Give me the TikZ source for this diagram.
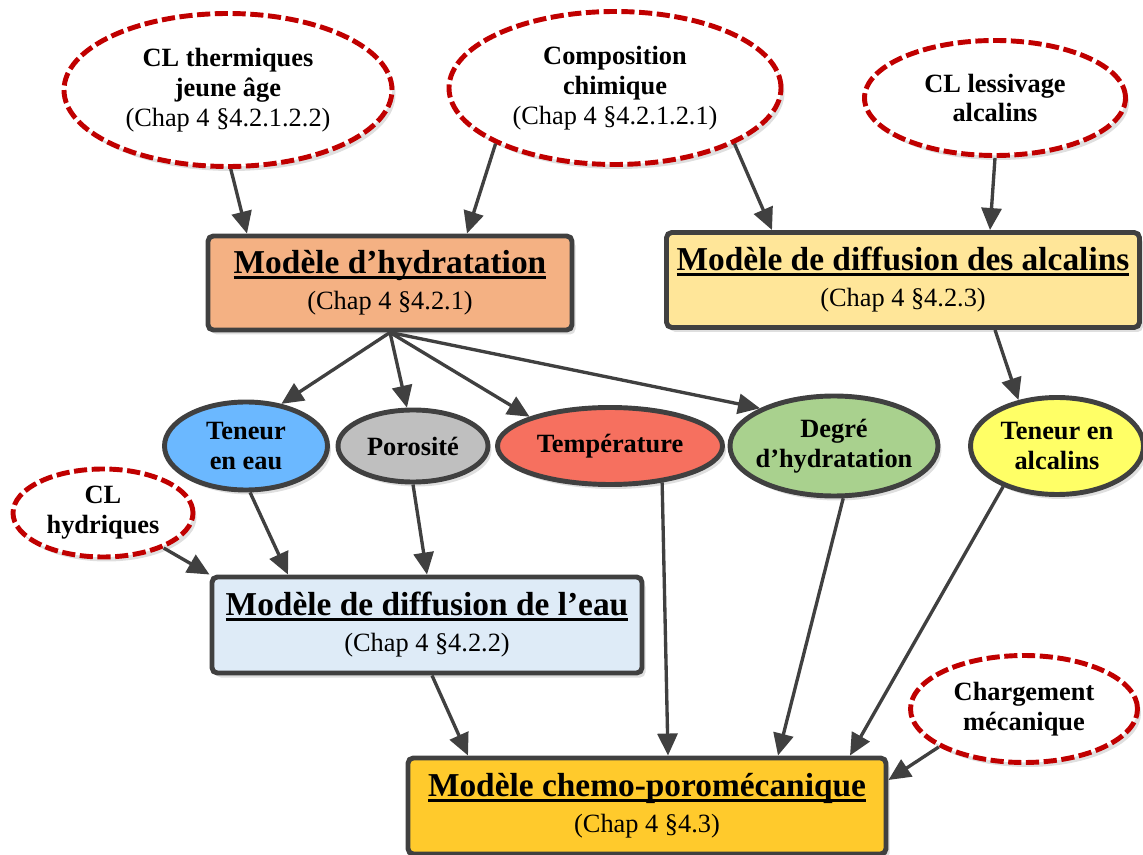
\documentclass[tikz,border=0pt]{standalone}
\usepackage{fontspec}
\setmainfont{Liberation Serif}
\usetikzlibrary{arrows.meta, positioning, shapes.geometric, shadows}

\newcommand{\souligne}[1]{\setbox0=\hbox{#1}\rlap{\copy0}\rule[-3pt]{\wd0}{1.6pt}}

\definecolor{trait}{HTML}{404040}
\definecolor{rouge}{HTML}{C00000}
\definecolor{orangeclair}{HTML}{F4B183}
\definecolor{jauneclair}{HTML}{FFE699}
\definecolor{bleuclair}{HTML}{DEEBF7}
\definecolor{jaunefonce}{HTML}{FFCA2C}
\definecolor{bleu}{HTML}{6BB8FF}
\definecolor{gris}{HTML}{BFBFBF}
\definecolor{rougeclair}{HTML}{F6705F}
\definecolor{vert}{HTML}{A9D18E}
\definecolor{jaune}{HTML}{FFFF66}

\begin{document}
\begin{tikzpicture}[on grid, >={Triangle[length=0.44cm, width=0.4cm]},
		ombre/.style={drop shadow={shadow xshift=0.07cm, shadow yshift=-0.09cm, opacity=0.25}},
		block/.style={draw=trait, line width=2.8pt, rounded corners=3pt, align=center, inner sep=0pt, ombre,
			font=\fontsize{15}{20.5}\selectfont},
		bulle/.style={ellipse, draw=rouge, line width=2.8pt, dash pattern=on 7.5pt off 2.6pt, fill=white,
			align=center, inner sep=0pt, ombre, font=\bfseries\fontsize{15}{17}\selectfont},
		param/.style={ellipse, draw=trait, line width=2.8pt, align=center, inner sep=0pt, ombre,
			font=\bfseries\fontsize{15}{17}\selectfont},
		lien/.style={->, draw=trait, line width=1.9pt}]
		
		\useasboundingbox (0,0) rectangle (22.86,-17.1);
		
		% Modeles (boites)
		\node [block, fill=orangeclair, minimum width=7.28cm, minimum height=1.88cm] (hyd) at (7.8,-5.66)
			{{\fontsize{19}{22}\selectfont\bfseries\souligne{Modèle d’hydratation}}\\(Chap 4 §4.2.1)};
		\node [block, fill=jauneclair, minimum width=9.46cm, minimum height=1.9cm, right=10.26cm of hyd, yshift=0.06cm] (alc)
			{{\fontsize{19}{22}\selectfont\bfseries\souligne{Modèle de diffusion des alcalins}}\\(Chap 4 §4.2.3)};
		
		% Conditions aux limites (haut)
		\node [bulle, minimum width=6.56cm, minimum height=3.06cm, above left=3.86cm and 3.24cm of hyd] (therm)
			{CL thermiques\\jeune âge\\{\mdseries (Chap 4 §4.2.1.2.2)}};
		\node [bulle, minimum width=6.64cm, minimum height=3.06cm, above right=3.9cm and 4.5cm of hyd] (comp)
			{Composition\\chimique\\{\mdseries (Chap 4 §4.2.1.2.1)}};
		\node [bulle, minimum width=5.22cm, minimum height=2.3cm, above right=3.64cm and 1.84cm of alc] (less)
			{CL lessivage\\alcalins};
		
		% Variables intermediaires
		\node [param, fill=bleu, minimum width=3.26cm, minimum height=1.76cm, below left=3.26cm and 2.88cm of hyd] (teau)
			{Teneur\\en eau};
		\node [param, fill=gris, minimum width=3cm, minimum height=1.44cm, below right=3.26cm and 0.46cm of hyd] (poro)
			{Porosité};
		\node [param, fill=rougeclair, minimum width=4.5cm, minimum height=1.54cm, right=3.94cm of poro] (temp)
			{Température};
		\node [param, fill=vert, minimum width=4.16cm, minimum height=2cm, inner xsep=-0.1cm, right=4.48cm of temp] (degre)
			{Degré\\d’hydratation};
		\node [param, fill=jaune, minimum width=3.46cm, minimum height=1.94cm, right=4.46cm of degre] (talc)
			{Teneur en\\alcalins};
		
		% Modeles (bas)
		\node [block, fill=bleuclair, minimum width=8.6cm, minimum height=1.92cm, below right=3.58cm and 0.28cm of poro] (eau)
			{{\fontsize{19}{22}\selectfont\bfseries\souligne{Modèle de diffusion de l’eau}}\\(Chap 4 §4.2.2)};
		\node [bulle, minimum width=3.6cm, minimum height=1.76cm, above left=2.24cm and 6.48cm of eau] (hydr)
			{CL\\hydriques};
		\node [block, fill=jaunefonce, minimum width=9.56cm, minimum height=1.92cm, below right=3.62cm and 4.4cm of eau] (chemo)
			{{\fontsize{19}{22}\selectfont\bfseries\souligne{Modèle chemo-poromécanique}}\\(Chap 4 §4.3)};
		\node [bulle, minimum width=4.54cm, minimum height=2.14cm, above right=1.94cm and 7.54cm of chemo] (charg)
			{Chargement\\mécanique};
		
		% Fleches vers les modeles du haut
		\draw [lien] (therm.-88) -- ([xshift=-2.86cm]hyd.north);
		\draw [lien] (comp.-155) -- ([xshift=1.54cm]hyd.north);
		\draw [lien] (comp.-25) -- ([xshift=-2.62cm]alc.north);
		\draw [lien] (less.south) -- ([xshift=1.74cm]alc.north);
		
		% Sorties du modele d'hydratation
		\draw [lien] (hyd.south) -- (teau.50);
		\draw [lien] (hyd.south) -- (poro.99);
		\draw [lien] (hyd.south) -- (temp.160);
		\draw [lien] (hyd.south) -- (degre.153);
		\draw [lien] ([xshift=1.84cm]alc.south) -- (talc.130);
		
		% Vers le modele de diffusion de l'eau
		\draw [lien] (teau.-85) -- ([xshift=-2.78cm]eau.north);
		\draw [lien] (poro.south) -- (eau.north);
		\draw [lien] (hydr.-30) -- (eau.north west);
		
		% Vers le modele chemo-poromecanique
		\draw [lien] ([xshift=0.1cm]eau.south) -- ([xshift=-3.58cm]chemo.north);
		\draw [lien] (temp.-35) -- ([xshift=0.42cm]chemo.north);
		\draw [lien] (degre.-80) -- ([xshift=2.62cm]chemo.north);
		\draw [lien] (talc.-143) -- ([xshift=4.06cm]chemo.north);
		\draw [lien] (charg.-156) -- ([yshift=0.52cm]chemo.east);
		
	\end{tikzpicture}
\end{document}
